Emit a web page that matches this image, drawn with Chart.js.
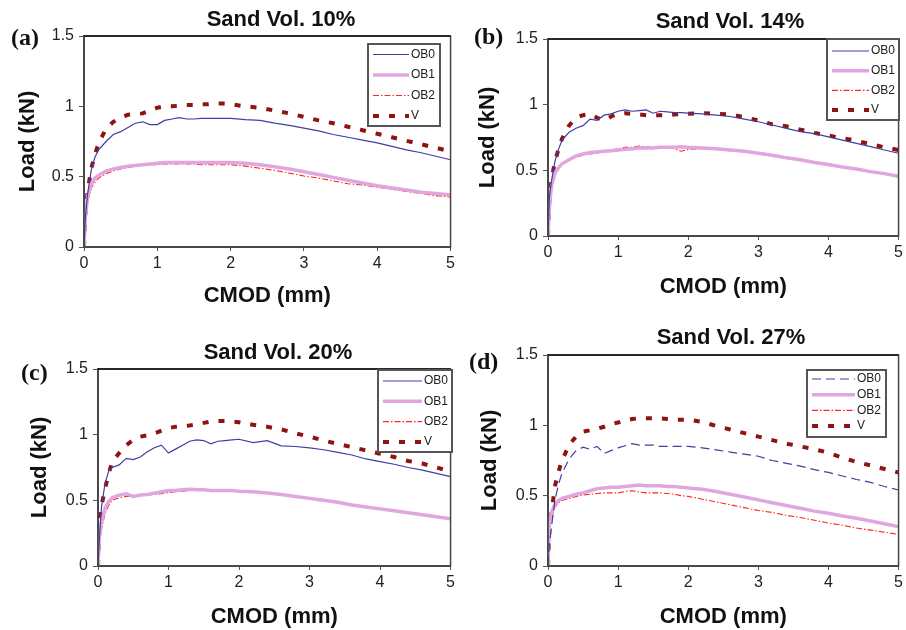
<!DOCTYPE html>
<html>
<head>
<meta charset="utf-8">
<script src="https://cdn.jsdelivr.net/npm/chart.js@4.4.1/dist/chart.umd.min.js"></script>
<style>
  body { margin: 0; background: #fff; }
  #wrap { position: relative; width: 906px; height: 630px; overflow: hidden; }
  canvas { position: absolute; }
</style>
</head>
<body>
<div id="wrap">
  <canvas id="chartA" width="458" height="315" style="left:0;top:0"></canvas>
  <canvas id="chartB" width="453" height="315" style="left:453px;top:0"></canvas>
  <canvas id="chartC" width="458" height="315" style="left:0;top:315px"></canvas>
  <canvas id="chartD" width="453" height="315" style="left:453px;top:315px"></canvas>
</div>
<script>
// CMOD (mm) sample points, shared by every curve
const cmod = [0, 0.02, 0.05, 0.1, 0.15, 0.2, 0.3, 0.4, 0.5, 0.6, 0.7, 0.8, 0.9, 1.0,
  1.1, 1.2, 1.3, 1.4, 1.5, 1.6, 1.7, 1.8, 1.9, 2.0, 2.2, 2.4, 2.6, 2.8, 3.0,
  3.2, 3.4, 3.6, 3.8, 4.0, 4.2, 4.4, 4.6, 4.8, 5.0];

const seriesNames = ['OB0', 'OB1', 'OB2', 'V'];
const xTicks = [0, 1, 2, 3, 4, 5];
const yTicks = [0, 0.5, 1, 1.5];

// Sand Vol. 10%
const ob0Sand10 = [0, .22, .38, .55, .64, .69, .75, .80, .82, .85, .88, .89, .87, .87,
  .90, .91, .92, .91, .91, .915, .915, .915, .915, .915, .905, .90, .88, .865, .845,
  .825, .80, .78, .76, .74, .715, .69, .67, .645, .62];
const ob1Sand10 = [0, .22, .36, .45, .49, .51, .54, .555, .565, .575, .58, .585, .59, .595,
  .60, .60, .60, .60, .60, .60, .60, .60, .60, .60, .595, .585, .57, .555, .535,
  .515, .495, .475, .455, .435, .42, .405, .39, .38, .37];
const ob2Sand10 = [0, .18, .32, .42, .46, .49, .52, .54, .555, .565, .575, .58, .585, .585,
  .59, .59, .59, .59, .59, .585, .585, .585, .585, .585, .575, .56, .545, .525, .505,
  .49, .47, .45, .44, .425, .41, .395, .38, .365, .355];
const vSand10 = [0, .25, .40, .56, .66, .74, .84, .89, .92, .94, .945, .95, .97, .99,
  1.0, 1.0, 1.005, 1.01, 1.01, 1.015, 1.015, 1.02, 1.02, 1.015, 1.0, .99, .97, .95, .925,
  .90, .88, .855, .83, .805, .78, .755, .73, .705, .68];

// Sand Vol. 14%
const ob0Sand14 = [0, .30, .42, .57, .66, .73, .79, .82, .84, .89, .88, .92, .93, .95,
  .96, .95, .955, .96, .935, .95, .945, .94, .94, .935, .93, .92, .91, .89, .87,
  .845, .82, .795, .78, .755, .73, .705, .68, .655, .63];
const ob1Sand14 = [0, .22, .38, .48, .52, .55, .58, .61, .625, .635, .64, .645, .65, .655,
  .66, .665, .67, .67, .67, .675, .675, .675, .68, .675, .67, .665, .655, .645, .63,
  .615, .595, .58, .56, .545, .525, .51, .49, .475, .455];
const ob2Sand14 = [0, .20, .36, .47, .52, .55, .58, .60, .615, .625, .63, .645, .655, .665,
  .675, .675, .685, .68, .675, .67, .67, .665, .645, .66, .665, .66, .65, .64, .625,
  .61, .59, .575, .56, .54, .525, .51, .49, .47, .45];
const vSand14 = [0, .27, .43, .57, .66, .74, .84, .90, .92, .93, .90, .88, .91, .93,
  .935, .93, .925, .92, .92, .92, .92, .925, .93, .93, .935, .93, .925, .905, .88,
  .85, .835, .81, .785, .765, .745, .725, .70, .675, .655];

// Sand Vol. 20%
const ob0Sand20 = [0, .22, .45, .63, .72, .75, .77, .82, .81, .83, .87, .90, .92, .86,
  .89, .92, .95, .96, .955, .93, .95, .955, .96, .965, .94, .955, .915, .91, .90,
  .885, .865, .845, .815, .795, .775, .75, .73, .705, .68];
const ob1Sand20 = [0, .22, .34, .44, .49, .52, .54, .55, .53, .54, .545, .555, .565, .575,
  .575, .58, .585, .58, .58, .575, .575, .575, .575, .57, .565, .555, .545, .53, .515,
  .50, .485, .465, .45, .435, .42, .405, .39, .375, .36];
const ob2Sand20 = [0, .16, .28, .40, .46, .50, .52, .53, .53, .535, .54, .545, .55, .56,
  .565, .57, .575, .58, .58, .575, .575, .575, .57, .57, .565, .555, .545, .53, .515,
  .50, .485, .465, .45, .435, .42, .405, .39, .375, .36];
const vSand20 = [0, .30, .46, .59, .70, .79, .86, .92, .96, .985, .995, 1.01, 1.03, 1.05,
  1.06, 1.065, 1.07, 1.08, 1.09, 1.10, 1.105, 1.105, 1.10, 1.095, 1.075, 1.06, 1.04, 1.01, .985,
  .955, .93, .905, .88, .855, .83, .80, .78, .75, .72];

// Sand Vol. 27%
const ob0Sand27 = [0, .15, .28, .47, .58, .66, .76, .82, .845, .83, .85, .80, .82, .84,
  .855, .87, .86, .86, .86, .85, .85, .85, .85, .85, .84, .825, .81, .795, .78,
  .75, .73, .71, .685, .665, .64, .615, .595, .565, .54];
const ob1Sand27 = [0, .30, .38, .44, .465, .48, .495, .51, .52, .535, .55, .555, .56, .56,
  .565, .57, .575, .57, .57, .57, .565, .565, .56, .555, .545, .53, .51, .49, .47,
  .45, .43, .41, .39, .375, .355, .34, .32, .30, .28];
const ob2Sand27 = [0, .25, .36, .42, .45, .465, .48, .495, .505, .51, .515, .52, .52, .52,
  .53, .535, .525, .52, .52, .52, .515, .51, .50, .495, .475, .455, .435, .415, .395,
  .38, .36, .345, .325, .305, .29, .27, .255, .24, .225];
const vSand27 = [0, .26, .38, .57, .67, .75, .86, .92, .955, .965, .975, .99, 1.01, 1.02,
  1.035, 1.045, 1.05, 1.05, 1.05, 1.05, 1.045, 1.04, 1.04, 1.04, 1.025, .995, .97, .945, .92,
  .895, .87, .85, .83, .805, .77, .74, .715, .69, .665];

const toPoints = (ys) => ys.map((y, i) => ({x: cmod[i], y}));

const lineStyles = {
  OB0: {borderColor: '#3f3fa3', borderWidth: 1.2, borderDash: []},
  OB1: {borderColor: '#e0a6e0', borderWidth: 3.5, borderDash: []},
  OB2: {borderColor: '#ff2626', borderWidth: 1.1, borderDash: [6, 2, 1.5, 2]},
  V: {borderColor: '#8e1414', borderWidth: 4, borderDash: [6, 10]},
};

const panelText = {
  id: 'panelText',
  afterDraw(chart, args, opts) {
    const {ctx} = chart;
    ctx.save();
    ctx.fillStyle = '#111';
    ctx.textAlign = 'center';
    ctx.textBaseline = 'middle';
    ctx.font = 'bold 22px "Liberation Sans", Arial, sans-serif';
    ctx.fillText(opts.title, opts.titleX, opts.titleY);
    ctx.textAlign = 'left';
    ctx.textBaseline = 'alphabetic';
    ctx.font = 'bold 24px "Liberation Serif", "Times New Roman", serif';
    ctx.fillText(opts.tag, opts.tagX, opts.tagY);
    ctx.restore();
  },
};

const frame = {
  id: 'frame',
  afterDatasetsDraw(chart) {
    const {ctx, chartArea: a} = chart;
    ctx.save();
    ctx.strokeStyle = '#444';
    ctx.lineWidth = 1.5;
    ctx.strokeRect(a.left, a.top, a.right - a.left, a.bottom - a.top);
    ctx.strokeStyle = '#111';
    ctx.beginPath();
    ctx.moveTo(a.left, a.top);
    ctx.lineTo(a.right, a.top);
    ctx.stroke();
    ctx.restore();
  },
};

const boxLegend = {
  id: 'boxLegend',
  afterDraw(chart, args, opts) {
    const {ctx} = chart;
    ctx.save();
    ctx.fillStyle = '#fff';
    ctx.fillRect(opts.x, opts.y, opts.w, opts.h);
    ctx.strokeStyle = '#555';
    ctx.lineWidth = 2;
    ctx.strokeRect(opts.x, opts.y, opts.w, opts.h);
    chart.data.datasets.forEach((ds, i) => {
      const y = opts.y + opts.first + i * opts.step;
      ctx.strokeStyle = ds.borderColor;
      ctx.lineWidth = ds.borderWidth;
      ctx.setLineDash(ds.borderDash);
      ctx.beginPath();
      ctx.moveTo(opts.x + 5, y);
      ctx.lineTo(opts.x + opts.lineEnd, y);
      ctx.stroke();
      ctx.setLineDash([]);
      ctx.fillStyle = '#222';
      ctx.font = '12px "Liberation Sans", Arial, sans-serif';
      ctx.textBaseline = 'middle';
      ctx.fillText(ds.label, opts.x + opts.lineEnd + 2, y);
    });
    ctx.restore();
  },
};

function makeChart(id, series, ob0Dash, box, text, legend) {
  const canvas = document.getElementById(id);
  const W = canvas.width, H = canvas.height;
  const font = '"Liberation Sans", Arial, sans-serif';
  return new Chart(canvas, {
    type: 'line',
    data: {
      datasets: seriesNames.map((name, i) => ({
        label: name,
        data: toPoints(series[i]),
        ...lineStyles[name],
        borderDash: name === 'OB0' ? ob0Dash : lineStyles[name].borderDash,
        pointRadius: 0,
        tension: 0,
        fill: false,
      })),
    },
    options: {
      responsive: false,
      animation: false,
      devicePixelRatio: 1,
      layout: {padding: {left: 0, top: box.top, right: W - box.right, bottom: 0}},
      plugins: {
        legend: {display: false},
        tooltip: {enabled: false},
        panelText: text,
        boxLegend: legend,
      },
      scales: {
        x: {
          type: 'linear',
          min: 0,
          max: 5,
          afterFit: (scale) => { scale.height = H - box.bottom; },
          afterBuildTicks: (scale) => { scale.ticks = xTicks.map((v) => ({value: v})); },
          border: {color: '#555', width: 2},
          grid: {drawOnChartArea: false, tickLength: 4, color: '#555'},
          ticks: {color: '#222', padding: 3, font: {family: font, size: 16}, maxRotation: 0,
            callback: (v) => String(v)},
          title: {display: true, text: 'CMOD (mm)', color: '#111',
            font: {family: font, size: 22, weight: 'bold'}, padding: {top: 0, bottom: box.xTitlePad}},
        },
        y: {
          min: 0,
          max: 1.5,
          afterFit: (scale) => { scale.width = box.left; },
          afterBuildTicks: (scale) => { scale.ticks = yTicks.map((v) => ({value: v})); },
          border: {color: '#555', width: 2},
          grid: {drawOnChartArea: false, tickLength: 5, color: '#555'},
          ticks: {color: '#222', padding: 5, font: {family: font, size: 16},
            callback: (v) => String(v)},
          title: {display: true, text: 'Load (kN)', color: '#111',
            font: {family: font, size: 22, weight: 'bold'}, padding: {top: box.yTitlePad, bottom: 0}},
        },
      },
    },
    plugins: [panelText, frame, boxLegend],
  });
}

makeChart('chartA', [ob0Sand10, ob1Sand10, ob2Sand10, vSand10], [],
  {left: 84, right: 453, top: 36, bottom: 247, xTitlePad: 6, yTitlePad: 15},
  {title: 'Sand Vol. 10%', titleX: 281, titleY: 20, tag: '(a)', tagX: 11, tagY: 45},
  {x: 368, y: 44, w: 72, h: 82, first: 10.5, step: 20.5, lineEnd: 41});

makeChart('chartB', [ob0Sand14, ob1Sand14, ob2Sand14, vSand14], [],
  {left: 95, right: 449, top: 39, bottom: 236, xTitlePad: 15, yTitlePad: 22},
  {title: 'Sand Vol. 14%', titleX: 277, titleY: 22, tag: '(b)', tagX: 21, tagY: 44},
  {x: 374, y: 39, w: 72, h: 81, first: 12, step: 19.7, lineEnd: 42});

makeChart('chartC', [ob0Sand20, ob1Sand20, ob2Sand20, vSand20], [],
  {left: 98, right: 452, top: 54, bottom: 251, xTitlePad: 0, yTitlePad: 27},
  {title: 'Sand Vol. 20%', titleX: 278, titleY: 38, tag: '(c)', tagX: 21, tagY: 65},
  {x: 378, y: 55, w: 74, h: 82, first: 11, step: 20.3, lineEnd: 44});

makeChart('chartD', [ob0Sand27, ob1Sand27, ob2Sand27, vSand27], [9, 5],
  {left: 95, right: 449, top: 40, bottom: 251, xTitlePad: 0, yTitlePad: 24},
  {title: 'Sand Vol. 27%', titleX: 278, titleY: 23, tag: '(d)', tagX: 16, tagY: 54},
  {x: 354, y: 55, w: 79, h: 67, first: 9, step: 15.7, lineEnd: 48});
</script>
</body>
</html>
